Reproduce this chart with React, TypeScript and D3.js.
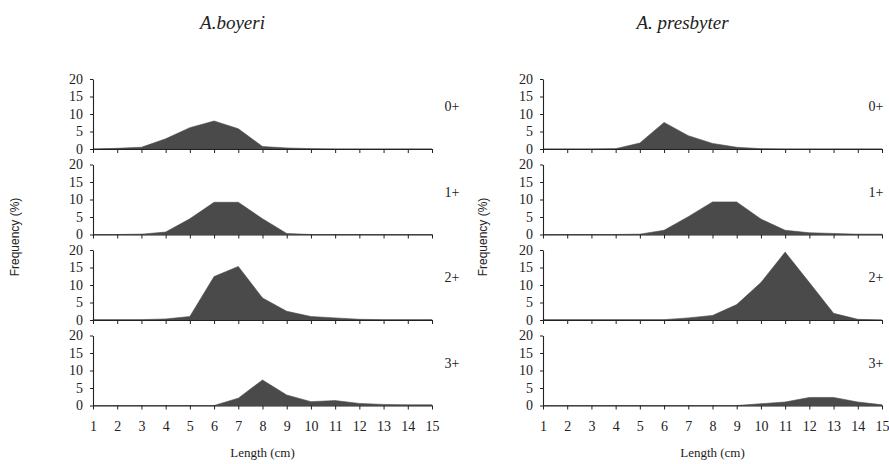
import * as d3 from "d3";
import React, { useEffect, useRef } from "react";

const LENGTHS = [1, 2, 3, 4, 5, 6, 7, 8, 9, 10, 11, 12, 13, 14, 15];
const AGES = ["0+", "1+", "2+", "3+"];
const Y_TICKS = [0, 5, 10, 15, 20];

// A. boyeri, frequency (%) per length class
const boyeri0 = [0, 0.2, 0.5, 2.9, 6.1, 8.0, 5.8, 0.7, 0.3, 0.1, 0, 0, 0, 0, 0];
const boyeri1 = [0, 0, 0.1, 0.7, 4.5, 9.2, 9.2, 4.5, 0.3, 0, 0, 0, 0, 0, 0];
const boyeri2 = [0.1, 0.1, 0.1, 0.3, 1.0, 12.4, 15.3, 6.3, 2.5, 1.0, 0.6, 0.2, 0.1, 0.1, 0.1];
const boyeri3 = [0, 0, 0, 0, 0, 0, 2.1, 7.3, 3.0, 1.1, 1.4, 0.6, 0.3, 0.2, 0.2];

// A. presbyter
const presb0 = [0, 0, 0, 0.1, 1.7, 7.6, 3.8, 1.6, 0.5, 0.1, 0, 0, 0, 0, 0];
const presb1 = [0, 0, 0, 0, 0.1, 1.2, 5.1, 9.3, 9.3, 4.4, 1.2, 0.5, 0.3, 0.1, 0.1];
const presb2 = [0.1, 0.1, 0.1, 0.1, 0.1, 0.1, 0.6, 1.3, 4.4, 10.7, 19.4, 10.7, 1.9, 0.2, 0];
const presb3 = [0, 0, 0, 0, 0, 0, 0, 0, 0, 0.5, 1.0, 2.3, 2.3, 1.0, 0.2];

const SPECIES = [
  { name: "A.boyeri", series: [boyeri0, boyeri1, boyeri2, boyeri3] },
  { name: "A. presbyter", series: [presb0, presb1, presb2, presb3] },
];

const W = 889;
const H = 464;
const SERIF = "'Liberation Serif', 'Times New Roman', serif";
const SANS = "'Liberation Sans', Arial, sans-serif";

export default function App() {
  const svgRef = useRef<SVGSVGElement | null>(null);

  useEffect(() => {
    const svg = d3.select(svgRef.current);
    svg.selectAll("*").remove();

    const colX0 = [93, 543];
    const labelX = [452, 876];
    const plotW = 339;
    const panelTop0 = 79;
    const panelStep = 85.5;
    const panelH = 70;

    SPECIES.forEach((sp, c) => {
      const x = d3.scaleLinear().domain([1, 15]).range([colX0[c], colX0[c] + plotW]);
      const cx = colX0[c] + plotW / 2;

      // title
      svg.append("text")
        .attr("x", cx - 30)
        .attr("y", 29)
        .attr("text-anchor", "middle")
        .attr("font-family", SERIF)
        .attr("font-style", "italic")
        .attr("font-size", 19)
        .attr("fill", "#222")
        .text(sp.name);

      sp.series.forEach((vals, r) => {
        const top = panelTop0 + r * panelStep;
        const y = d3.scaleLinear().domain([0, 20]).range([top + panelH, top]);
        const g = svg.append("g");

        const area = d3.area<number>()
          .x((_, i) => x(LENGTHS[i]))
          .y0(y(0))
          .y1(d => y(d));

        g.append("path")
          .attr("d", area(vals) ?? "")
          .attr("fill", "#4a4a4a")
          .attr("stroke", "#4a4a4a")
          .attr("stroke-width", 0.6);

        // y axis
        const ya = g.append("g")
          .attr("transform", `translate(${colX0[c]},0)`)
          .call(d3.axisLeft(y).tickValues(Y_TICKS).tickSize(3).tickSizeOuter(0).tickPadding(7));
        ya.selectAll("text")
          .attr("font-family", SERIF)
          .attr("font-size", 14)
          .attr("fill", "#222");

        // x axis
        const xa = g.append("g")
          .attr("transform", `translate(0,${y(0)})`)
          .call(d3.axisBottom(x).tickValues(LENGTHS).tickSize(4).tickSizeOuter(0).tickPadding(12));
        xa.selectAll("text")
          .attr("font-family", SERIF)
          .attr("font-size", 14)
          .attr("fill", "#222")
          .style("display", r === 3 ? null : "none");

        g.selectAll(".domain").attr("stroke", "#222").attr("stroke-width", 1.1);
        g.selectAll(".tick line").attr("stroke", "#222");

        // age label
        svg.append("text")
          .attr("x", labelX[c])
          .attr("y", top + 32)
          .attr("text-anchor", "middle")
          .attr("font-family", SERIF)
          .attr("font-size", 14)
          .attr("fill", "#222")
          .text(AGES[r]);
      });

      // axis titles
      svg.append("text")
        .attr("x", cx)
        .attr("y", 457)
        .attr("text-anchor", "middle")
        .attr("font-family", SERIF)
        .attr("font-size", 13)
        .attr("fill", "#222")
        .text("Length (cm)");

      const fx = c === 0 ? 19 : 487;
      svg.append("text")
        .attr("transform", `translate(${fx},237) rotate(-90)`)
        .attr("text-anchor", "middle")
        .attr("font-family", SANS)
        .attr("font-size", 12)
        .attr("fill", "#222")
        .text("Frequency (%)");
    });
  }, []);

  return (
    <svg
      ref={svgRef}
      width={W}
      height={H}
      style={{ position: "absolute", left: 0, top: 0, background: "#fff" }}
    />
  );
}
